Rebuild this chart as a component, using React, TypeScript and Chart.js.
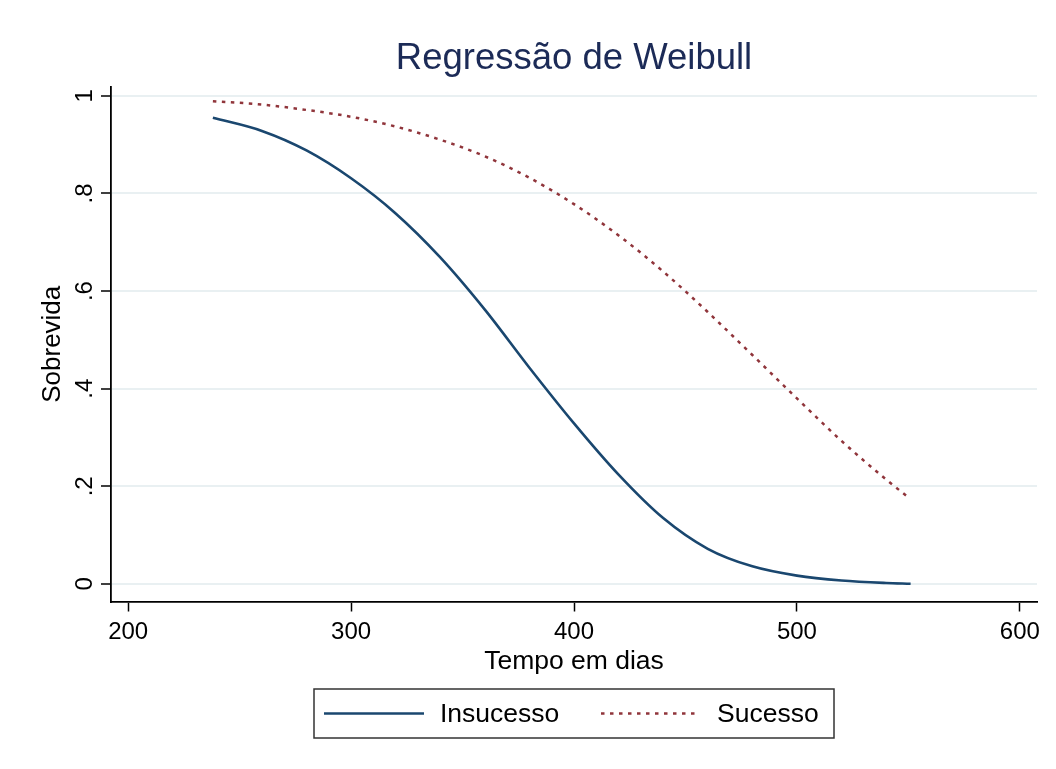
import React, { useEffect, useRef } from "react";
import { Chart, registerables } from "chart.js";

Chart.register(...registerables);

const TITLE = "Regressão de Weibull";
const X_TITLE = "Tempo em dias";
const Y_TITLE = "Sobrevida";
const SERIES_NAMES = ["Insucesso", "Sucesso"];

const X_TICKS = [200, 300, 400, 500, 600];
const Y_TICKS = [0, 0.2, 0.4, 0.6, 0.8, 1];
const Y_TICK_LABELS = ["0", ".2", ".4", ".6", ".8", "1"];

const TIME_INSUCESSO = [238, 260, 280, 300, 320, 340, 360, 380, 400, 420, 440, 460, 480, 500, 520, 540, 551];
const SURV_INSUCESSO = [0.955, 0.928, 0.888, 0.831, 0.759, 0.669, 0.562, 0.443, 0.329, 0.224, 0.135, 0.072, 0.036, 0.017, 0.007, 0.002, 0.0005];

const TIME_SUCESSO = [238, 260, 280, 300, 320, 340, 360, 380, 400, 420, 440, 460, 480, 500, 520, 540, 549];
const SURV_SUCESSO = [0.989, 0.982, 0.971, 0.957, 0.937, 0.91, 0.876, 0.832, 0.778, 0.714, 0.64, 0.557, 0.469, 0.38, 0.293, 0.214, 0.181];

const FONT = '"Liberation Sans", Arial, Helvetica, sans-serif';

const titlePlugin = {
  id: "stataTitle",
  afterDraw(chart: any) {
    const { ctx, chartArea } = chart;
    ctx.save();
    ctx.font = `36.5px ${FONT}`;
    ctx.fillStyle = "#1c2b57";
    ctx.textAlign = "center";
    ctx.textBaseline = "alphabetic";
    ctx.fillText(TITLE, (chartArea.left + chartArea.right) / 2, chartArea.top - 18);
    ctx.restore();
  },
};

const legendPlugin = {
  id: "stataLegend",
  afterDraw(chart: any) {
    const { ctx, chartArea } = chart;
    const cx = (chartArea.left + chartArea.right) / 2;
    const w = 520;
    const h = 49;
    const left = cx - w / 2;
    const top = chartArea.bottom + 87.5;
    ctx.save();
    ctx.fillStyle = "#ffffff";
    ctx.fillRect(left, top, w, h);
    ctx.strokeStyle = "#333333";
    ctx.lineWidth = 1.5;
    ctx.strokeRect(left, top, w, h);
    const slots = [
      { sx: 10, ex: 110, tx: 126 },
      { sx: 287, ex: 383, tx: 403 },
    ];
    const midY = top + h / 2;
    chart.data.datasets.forEach((ds: any, i: number) => {
      const s = slots[i];
      ctx.beginPath();
      ctx.strokeStyle = ds.borderColor;
      ctx.lineWidth = ds.borderWidth;
      ctx.setLineDash(ds.borderDash || []);
      ctx.moveTo(left + s.sx, midY);
      ctx.lineTo(left + s.ex, midY);
      ctx.stroke();
      ctx.setLineDash([]);
      ctx.font = `26.5px ${FONT}`;
      ctx.fillStyle = "#000000";
      ctx.textAlign = "left";
      ctx.textBaseline = "middle";
      ctx.fillText(ds.label, left + s.tx, midY + 1);
    });
    ctx.restore();
  },
};

export default function App() {
  const canvasRef = useRef<HTMLCanvasElement | null>(null);

  useEffect(() => {
    if (!canvasRef.current) return;
    const chart = new Chart(canvasRef.current, {
      type: "line",
      data: {
        datasets: [
          {
            label: SERIES_NAMES[0],
            data: TIME_INSUCESSO.map((t, i) => ({ x: t, y: SURV_INSUCESSO[i] })),
            borderColor: "#1a476f",
            borderWidth: 2.6,
            pointRadius: 0,
            fill: false,
            cubicInterpolationMode: "monotone",
          },
          {
            label: SERIES_NAMES[1],
            data: TIME_SUCESSO.map((t, i) => ({ x: t, y: SURV_SUCESSO[i] })),
            borderColor: "#90353b",
            borderWidth: 2.5,
            borderDash: [3.5, 5.5],
            pointRadius: 0,
            fill: false,
            cubicInterpolationMode: "monotone",
          },
        ],
      },
      options: {
        animation: false,
        responsive: false,
        devicePixelRatio: 1,
        layout: { padding: { left: 0, top: 80, right: 11, bottom: 75.5 } },
        plugins: {
          legend: { display: false },
          title: { display: false },
          tooltip: { enabled: false },
        },
        scales: {
          x: {
            type: "linear",
            min: 192.3,
            max: 607.7,
            afterBuildTicks: (scale: any) => {
              scale.ticks = X_TICKS.map((v) => ({ value: v }));
            },
            afterFit: (scale: any) => {
              scale.height = 80;
            },
            grid: {
              display: true,
              drawOnChartArea: false,
              drawTicks: true,
              tickLength: 10,
              tickColor: "#000000",
              tickWidth: 1.5,
            },
            border: { display: true, color: "#000000", width: 1.8 },
            ticks: {
              color: "#000000",
              font: { size: 24, family: FONT },
              padding: 6,
              maxRotation: 0,
              autoSkip: false,
              callback: (v: any) => String(v),
            },
            title: {
              display: true,
              text: X_TITLE,
              color: "#000000",
              font: { size: 26.5, family: FONT },
              padding: { top: 0, bottom: 4 },
            },
          },
          y: {
            type: "linear",
            min: -0.036,
            max: 1.018,
            afterBuildTicks: (scale: any) => {
              scale.ticks = Y_TICKS.map((v) => ({ value: v }));
            },
            afterFit: (scale: any) => {
              scale.width = 103;
            },
            grid: {
              display: true,
              drawOnChartArea: true,
              drawTicks: true,
              tickLength: 10,
              color: "#e9f0f2",
              lineWidth: 2,
              tickColor: "#000000",
              tickWidth: 1.5,
            },
            border: { display: true, color: "#000000", width: 1.8 },
            ticks: {
              color: "#000000",
              font: { size: 24, family: FONT },
              padding: 6,
              minRotation: 90,
              maxRotation: 90,
              crossAlign: "center",
              autoSkip: false,
              callback: (v: any) => {
                const idx = Y_TICKS.indexOf(v);
                return idx >= 0 ? Y_TICK_LABELS[idx] : "";
              },
            },
            title: {
              display: true,
              text: Y_TITLE,
              color: "#000000",
              font: { size: 26, family: FONT },
              padding: { top: 29, bottom: 0 },
            },
          },
        },
      },
      plugins: [titlePlugin, legendPlugin],
    } as any);
    return () => chart.destroy();
  }, []);

  return (
    <div
      style={{
        marginTop: -3,
        marginLeft: -2,
        borderTop: "2px solid #e6edf1",
        borderLeft: "2px solid #e6edf1",
        width: 1040,
        height: 750,
        background: "#ffffff",
      }}
    >
      <canvas ref={canvasRef} width={1040} height={750} style={{ display: "block" }} />
    </div>
  );
}
